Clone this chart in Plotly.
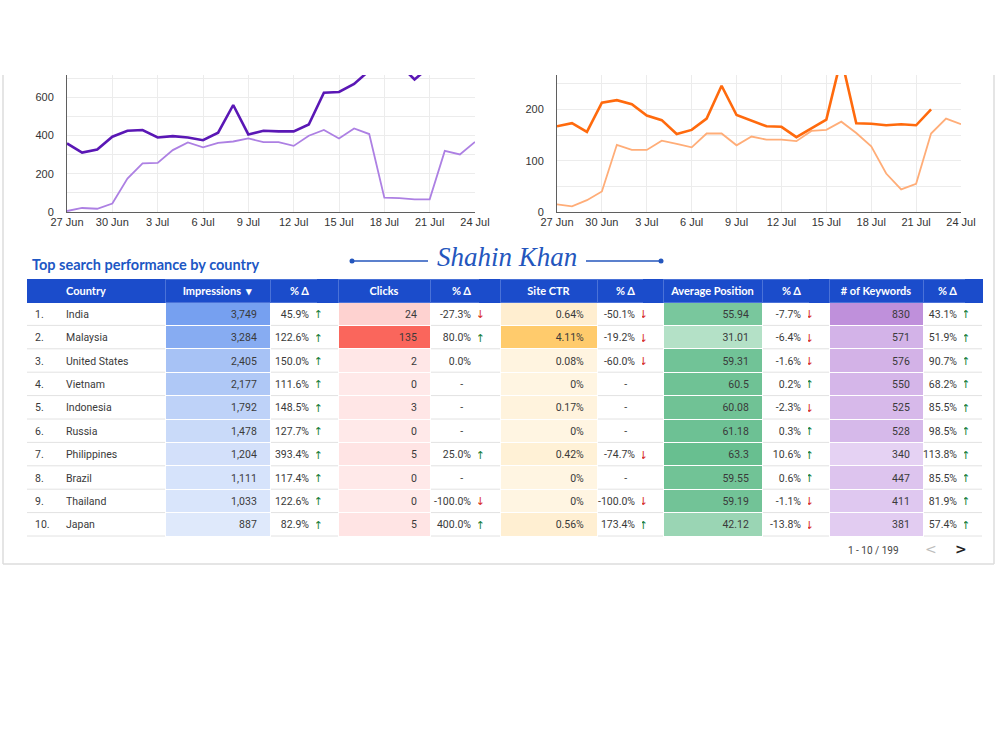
import plotly.graph_objects as go
import pandas as pd

# ---------------- data ----------------
dates = pd.date_range("2023-06-27", "2023-07-24").strftime("%Y-%m-%d").tolist()

impr_current = [359, 311, 327, 394, 425, 429, 390, 397, 390, 376, 415, 560, 406, 425,
                422, 422, 458, 624, 628, 670, 740, 790, 770, 694, 760, 820]
impr_previous = [5, 21, 17, 44, 175, 254, 257, 324, 364, 338, 362, 369, 385, 366,
                 366, 346, 399, 429, 385, 437, 408, 75, 73, 66, 66, 320, 301, 367]
clicks_current = [167, 173, 156, 213, 218, 210, 188, 179, 152, 160, 182, 246, 189, 178,
                  167, 166, 146, 163, 180, 300, 173, 172, 169, 171, 169, 200]
clicks_previous = [15, 11, 23, 40, 131, 121, 121, 139, 133, 126, 153, 153, 130, 147,
                   141, 141, 138, 158, 160, 176, 154, 128, 75, 44, 55, 153, 182, 171]

ranks = ["1.", "2.", "3.", "4.", "5.", "6.", "7.", "8.", "9.", "10."]
countries = ["India", "Malaysia", "United States", "Vietnam", "Indonesia", "Russia",
             "Philippines", "Brazil", "Thailand", "Japan"]
impressions = [3749, 3284, 2405, 2177, 1792, 1478, 1204, 1111, 1033, 887]
impressions_delta = [45.9, 122.6, 150.0, 111.6, 148.5, 127.7, 393.4, 117.4, 122.6, 82.9]
clicks = [24, 135, 2, 0, 3, 0, 5, 0, 0, 5]
clicks_delta = [-27.3, 80.0, 0.0, None, None, None, 25.0, None, -100.0, 400.0]
site_ctr = [0.64, 4.11, 0.08, 0, 0.17, 0, 0.42, 0, 0, 0.56]
ctr_delta = [-50.1, -19.2, -60.0, None, None, None, -74.7, None, -100.0, 173.4]
avg_position = [55.94, 31.01, 59.31, 60.5, 60.08, 61.18, 63.3, 59.55, 59.19, 42.12]
position_delta = [-7.7, -6.4, -1.6, 0.2, -2.3, 0.3, 10.6, 0.6, -1.1, -13.8]
keywords = [830, 571, 576, 550, 525, 528, 340, 447, 411, 381]
keywords_delta = [43.1, 51.9, 90.7, 68.2, 85.5, 98.5, 113.8, 85.5, 81.9, 57.4]

metric_labels = ["Impressions  ▾", "Clicks", "Site CTR", "Average Position", "# of Keywords"]
delta_label = "% Δ"

# ---------------- helpers ----------------
W, H = 1000, 750
NB = "\u00a0"
UP_COLOR, DOWN_COLOR = "#188038", "#d93025"


def px(x):
    return x / W


def py(y):
    return 1 - y / H


def nowrap(s):
    return s.replace(" ", NB)


def lerp(c0, c1, t):
    t = max(0.0, min(1.0, t))
    return "rgb({},{},{})".format(*[round(a + (b - a) * t) for a, b in zip(c0, c1)])


def scale(vals, c0, c1, lo=None, hi=None):
    lo = min(vals) if lo is None else lo
    hi = max(vals) if hi is None else hi
    return [lerp(c0, c1, (v - lo) / (hi - lo)) for v in vals]


def delta_text(v):
    if v is None:
        return "-" + NB * 3
    return f"{v:.1f}%"


def arrow_text(v, trail):
    if v is None or v == 0:
        return ""
    return ("↑" if v > 0 else "↓") + NB * trail


def arrow_color(v):
    if v is None or v == 0:
        return "#333"
    return UP_COLOR if v > 0 else DOWN_COLOR


PAD = NB * 2
TEXT = "#3a3a3a"
white = "rgba(0,0,0,0)"
n = len(countries)
wcol = [white] * n

fig = go.Figure()

# ---------------- line charts ----------------
fig.add_trace(go.Scatter(x=dates[:len(impr_previous)], y=impr_previous, mode="lines",
                         line=dict(color="#ad80e3", width=1.8), xaxis="x", yaxis="y",
                         name="Impressions (previous)"))
fig.add_trace(go.Scatter(x=dates[:len(impr_current)], y=impr_current, mode="lines",
                         line=dict(color="#5a17b5", width=2.6), xaxis="x", yaxis="y",
                         name="Impressions"))
fig.add_trace(go.Scatter(x=dates[:len(clicks_previous)], y=clicks_previous, mode="lines",
                         line=dict(color="#ffad78", width=1.8), xaxis="x2", yaxis="y2",
                         name="Clicks (previous)"))
fig.add_trace(go.Scatter(x=dates[:len(clicks_current)], y=clicks_current, mode="lines",
                         line=dict(color="#ff6a0d", width=2.6), xaxis="x2", yaxis="y2",
                         name="Clicks"))

tickfont = dict(family="Liberation Sans, Arial, sans-serif", size=11, color="#333")
grid = "#ececec"
xcommon = dict(type="date", range=[dates[0], dates[-1]], tickformat="%-d %b",
               tick0=dates[0], dtick=3 * 86400000, showgrid=True, gridcolor=grid,
               showline=True, linecolor="#5f5f5f", linewidth=1, ticks="",
               tickfont=tickfont, zeroline=False, fixedrange=True, automargin=False)
ycommon = dict(showgrid=True, gridcolor=grid, showline=True, linecolor="#5f5f5f",
               linewidth=1, ticks="", tickfont=tickfont, zeroline=False,
               ticklabelstandoff=10, fixedrange=True, automargin=False)

fig.update_layout(
    xaxis=dict(domain=[px(67), px(475)], anchor="y", **xcommon),
    yaxis=dict(domain=[py(212), py(75)], anchor="x", range=[0, 717], dtick=200,
               minor=dict(dtick=100, showgrid=True, gridcolor=grid), **ycommon),
    xaxis2=dict(domain=[px(557), px(961)], anchor="y2", **xcommon),
    yaxis2=dict(domain=[py(212), py(75)], anchor="x2", range=[0, 267], dtick=100,
                minor=dict(dtick=50, showgrid=True, gridcolor=grid), **ycommon),
)

# ---------------- table ----------------
metric_vals = [
    [f"{v:,}{PAD}" for v in impressions],
    [f"{v:,}{PAD}" for v in clicks],
    [f"{v:g}%{PAD}" for v in site_ctr],
    [f"{v:g}{PAD}" for v in avg_position],
    [f"{v:,}{PAD}" for v in keywords],
]
metric_fills = [
    scale(impressions, (255, 255, 255), (118, 160, 240), lo=0),
    scale(clicks, (255, 233, 233), (250, 102, 92)),
    scale(site_ctr, (255, 245, 226), (255, 203, 108)),
    scale(avg_position, (180, 225, 199), (104, 191, 144)),
    scale(keywords, (229, 210, 243), (191, 144, 219)),
]
deltas = [impressions_delta, clicks_delta, ctr_delta, position_delta, keywords_delta]
arrow_trail = [2, 2, 2, 2, 1]
# x boundaries (px): metric start, delta-value start, arrow start, group end
groups = [(165, 270, 317, 338), (338, 430, 479, 500), (500, 597, 643, 663),
          (663, 762, 809, 829), (829, 923, 965, 982)]
TABLE_LEFT, COUNTRY_LEFT = 27, 58

HEAD_BG = "#1b4ccb"
HEAD_LINE = "#4a72d8"

bounds = [TABLE_LEFT, COUNTRY_LEFT]
header_vals = ["", "Country"]
header_align = ["left", "left"]
header_line = [HEAD_BG, HEAD_BG]
cell_vals = [ranks, [nowrap(c) for c in countries]]
cell_fill = [wcol, wcol]
cell_line = [white, white]
cell_align = ["left", "left"]
cell_font_color = [TEXT, TEXT]
cell_font_family = ["Roboto, sans-serif", "Roboto, sans-serif"]
cell_font_size = [10.5, 10.5]

for (g0, g1, g2, g3), lab, mv, mf, dv, tr in zip(groups, metric_labels, metric_vals,
                                                  metric_fills, deltas, arrow_trail):
    bounds += [g0, g1, g2]
    header_vals += [nowrap(lab), nowrap(delta_label), ""]
    header_align += ["center", "right", "right"]
    header_line += [HEAD_LINE, HEAD_LINE, HEAD_BG]
    cell_vals += [mv, [delta_text(v) for v in dv], [arrow_text(v, tr) for v in dv]]
    cell_fill += [mf, wcol, wcol]
    cell_line += ["white", white, white]
    cell_align += ["right", "right", "right"]
    cell_font_color += [TEXT, TEXT, [arrow_color(v) for v in dv]]
    cell_font_family += ["Roboto, sans-serif", "Roboto, sans-serif", "DejaVu Sans, sans-serif"]
    cell_font_size += [10.5, 10.5, 11]
bounds.append(groups[-1][3])
widths = [b - a for a, b in zip(bounds[:-1], bounds[1:])]

HEADER_TOP, HEADER_H, ROW_H = 279, 23, 23.4
fig.add_trace(go.Table(
    domain=dict(x=[px(bounds[0]), px(bounds[-1])], y=[py(540), py(HEADER_TOP)]),
    columnwidth=widths,
    header=dict(values=header_vals,
                fill_color=HEAD_BG,
                line=dict(color=header_line, width=1),
                align=header_align,
                font=dict(family="Lato, Roboto, sans-serif", size=11, color="white",
                          weight="bold"),
                height=HEADER_H),
    cells=dict(values=cell_vals,
               fill_color=cell_fill,
               line=dict(color=cell_line, width=1),
               align=cell_align,
               font=dict(family=cell_font_family, size=cell_font_size, color=cell_font_color),
               height=ROW_H),
))

shapes = []
# row separators
for k in range(1, n + 1):
    y = HEADER_TOP + HEADER_H + k * ROW_H
    shapes.append(dict(type="line", xref="paper", yref="paper", x0=px(bounds[0]), x1=px(bounds[-1]),
                       y0=py(y), y1=py(y), line=dict(color="#e2e2e2", width=1), layer="below"))
# card border
card = "#dcdcdc"
for (x0, y0, x1, y1) in [(3, 75, 3, 564), (3, 564, 994, 564), (994, 75, 994, 564)]:
    shapes.append(dict(type="line", xref="paper", yref="paper", x0=px(x0), x1=px(x1),
                       y0=py(y0), y1=py(y1), line=dict(color=card, width=1.5), layer="below"))
# signature decoration
sig = "#2456bd"
for (x0, x1) in [(352, 428), (586, 661)]:
    shapes.append(dict(type="line", xref="paper", yref="paper", x0=px(x0), x1=px(x1),
                       y0=py(261), y1=py(261), line=dict(color=sig, width=1.5)))
for xc in [352, 661]:
    shapes.append(dict(type="circle", xref="paper", yref="paper", x0=px(xc - 2.5), x1=px(xc + 2.5),
                       y0=py(263.5), y1=py(258.5), fillcolor=sig, line=dict(width=0)))

annotations = [
    dict(text="<b>Top search performance by country</b>", x=px(30), y=py(265),
         xref="paper", yref="paper", xanchor="left", yanchor="middle", showarrow=False,
         font=dict(family="Lato, sans-serif", size=14.5, color="#1d57c4")),
    dict(text="Shahin Khan", x=px(507), y=py(257), xref="paper", yref="paper",
         xanchor="center", yanchor="middle", showarrow=False,
         font=dict(family="Liberation Serif, serif", size=27, color=sig, style="italic")),
    dict(text="1 - 10 / 199", x=px(873), y=py(550), xref="paper", yref="paper",
         xanchor="center", yanchor="middle", showarrow=False,
         font=dict(family="Roboto, sans-serif", size=10, color="#444")),
    dict(text="<", x=px(931), y=py(549), xref="paper", yref="paper",
         xanchor="center", yanchor="middle", showarrow=False,
         font=dict(family="DejaVu Sans, sans-serif", size=14, color="#bdbdbd")),
    dict(text="<b>></b>", x=px(961), y=py(549), xref="paper", yref="paper",
         xanchor="center", yanchor="middle", showarrow=False,
         font=dict(family="DejaVu Sans, sans-serif", size=14, color="#222")),
]

fig.update_layout(
    width=W, height=H, margin=dict(l=0, r=0, t=0, b=0, autoexpand=False),
    paper_bgcolor="white", plot_bgcolor="white", showlegend=False,
    shapes=shapes, annotations=annotations,
)

fig.write_html("out.html", config={"displayModeBar": False})
